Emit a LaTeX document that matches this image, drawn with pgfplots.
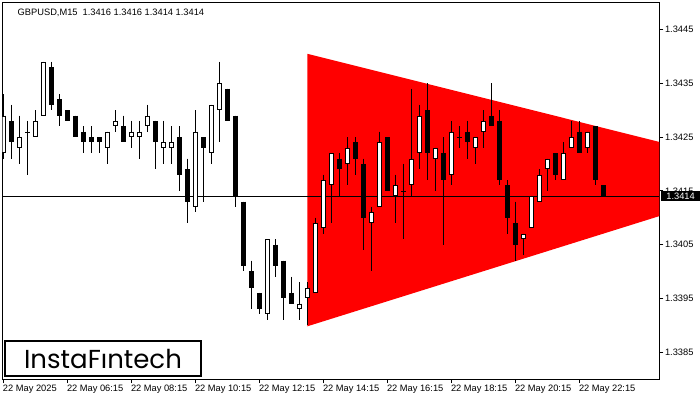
\documentclass[border=0pt]{standalone}
\usepackage{pgfplots}
\pgfplotsset{compat=1.18}
\usepackage{pgfplotstable}
\usetikzlibrary{calc}
\usepackage{fontspec}
\setmainfont{Liberation Sans}
\newfontfamily\logofont{Poppins}

% GBPUSD M15 candles, x = bar index
\pgfplotstableread{
x  o      h      l      c
0  1.3422 1.3433 1.3421 1.3429
2  1.3423 1.3429 1.3420 1.3425
4  1.3425 1.3430 1.3425 1.3428
5  1.3429 1.3439 1.3429 1.3439
13 1.3423 1.3426 1.3420 1.3426
14 1.3427 1.3430 1.3426 1.3428
16 1.3425 1.3428 1.3423 1.3426
17 1.3425 1.3428 1.3421 1.3426
18 1.3427 1.3431 1.3426 1.3429
20 1.3423 1.3428 1.3420 1.3424
21 1.3423 1.3427 1.3420 1.3424
24 1.3412 1.3430 1.3411 1.3426
26 1.3422 1.3431 1.3420 1.3431
27 1.3430 1.3439 1.3424 1.3435
33 1.3392 1.3406 1.3391 1.3406
37 1.3393 1.3398 1.3391 1.3394
38 1.3395 1.3398 1.3390 1.3397
39 1.3396 1.3410 1.3396 1.3409
40 1.3408 1.3418 1.3407 1.3417
41 1.3416 1.3422 1.3409 1.3422
43 1.3420 1.3425 1.3416 1.3423
46 1.3409 1.3412 1.3400 1.3411
47 1.3412 1.3426 1.3412 1.3424
49 1.3414 1.3418 1.3409 1.3416
51 1.3416 1.3434 1.3414 1.3421
52 1.3422 1.3431 1.3419 1.3429
54 1.3421 1.3423 1.3415 1.3423
56 1.3418 1.3428 1.3416 1.3426
59 1.3423 1.3425 1.3420 1.3425
60 1.3426 1.3430 1.3423 1.3428
65 1.3406 1.3407 1.3403 1.3407
66 1.3408 1.3414 1.3408 1.3414
67 1.3413 1.3419 1.3413 1.3418
68 1.3419 1.3421 1.3415 1.3421
70 1.3417 1.3424 1.3417 1.3422
71 1.3423 1.3428 1.3423 1.3425
73 1.3423 1.3426 1.3422 1.3426
}\bull
\pgfplotstableread{
x  o      h      l      c
1  1.3428 1.3431 1.3421 1.3424
3  1.3426 1.3428 1.3418 1.3426
6  1.3438 1.3439 1.3430 1.3431
7  1.3432 1.3433 1.3427 1.3429
8  1.3430 1.3430 1.3428 1.3428
9  1.3429 1.3429 1.3425 1.3425
10 1.3426 1.3427 1.3422 1.3424
11 1.3425 1.3427 1.3422 1.3424
12 1.3425 1.3425 1.3422 1.3424
15 1.3427 1.3429 1.3424 1.3424
19 1.3428 1.3428 1.3419 1.3424
22 1.3425 1.3427 1.3415 1.3418
23 1.3419 1.3421 1.3409 1.3413
25 1.3425 1.3425 1.3413 1.3423
28 1.3434 1.3434 1.3428 1.3428
29 1.3429 1.3429 1.3412 1.3414
30 1.3413 1.3413 1.3400 1.3401
31 1.3400 1.3402 1.3393 1.3397
32 1.3396 1.3396 1.3392 1.3393
34 1.3405 1.3406 1.3399 1.3401
35 1.3402 1.3402 1.3391 1.3395
36 1.3396 1.3399 1.3394 1.3394
42 1.3421 1.3422 1.3414 1.3419
44 1.3424 1.3425 1.3418 1.3421
45 1.3420 1.3421 1.3404 1.3410
48 1.3425 1.3425 1.3415 1.3415
50 1.3415 1.3420 1.3406 1.3415
53 1.3430 1.3435 1.3417 1.3422
55 1.3422 1.3425 1.3405 1.3417
57 1.3425 1.3427 1.3423 1.3425
58 1.3426 1.3428 1.3421 1.3424
61 1.3429 1.3435 1.3427 1.3427
62 1.3428 1.3430 1.3416 1.3417
63 1.3416 1.3417 1.3407 1.3410
64 1.3409 1.3413 1.3402 1.3405
69 1.3422 1.3422 1.3417 1.3418
72 1.3426 1.3428 1.3422 1.3422
74 1.3427 1.3427 1.3416 1.3417
75 1.3416 1.3416 1.3414 1.3414
}\bear

\begin{document}
\begin{tikzpicture}[x=1bp,y=1bp]
\begin{axis}[
  name=ax,
  scale only axis, width=656.8bp, height=376.3bp,
  xmin=-0.1, xmax=82, ymin=1.3380, ymax=1.3450,
  axis line style={line width=1bp},
  tick style={line width=1bp, black},
  major tick length=4bp, tick align=outside,
  xtick pos=left, ytick pos=right, yticklabel pos=right,
  xtick={0,8,...,72},
  xticklabels={22 May 2025, 22 May 06:15, 22 May 08:15, 22 May 10:15, 22 May 12:15,
    22 May 14:15, 22 May 16:15, 22 May 18:15, 22 May 20:15, 22 May 22:15},
  ytick={1.3385,1.3395,1.3405,1.3415,1.3425,1.3435,1.3445},
  scaled y ticks=false,
  tick label style={font=\fontsize{9.3bp}{11bp}\selectfont},
  xticklabel style={anchor=north west, inner sep=0pt, xshift=-0.5bp, yshift=-2bp},
  yticklabel style={anchor=west, inner sep=0pt, xshift=1.5bp,
    /pgf/number format/.cd, fixed, fixed zerofill, precision=4, assume math mode=true},
  candle/.style={only marks, mark=none, mark size=0pt, mark options={draw=none, fill=none},
    error bars/.cd, y dir=minus, y explicit, error mark=none},
]
% red symmetrical triangle
\addplot[fill=red, draw=none] coordinates {(38,1.34405) (82,1.34241) (82,1.34103) (38,1.33898)} -- cycle;
% current price line
\addplot[black, line width=1bp] coordinates {(-0.1,1.3414) (82,1.3414)};
% wicks
\addplot[black, candle, error bar style={line width=1bp}]
  table[x=x, y=h, y error expr=\thisrow{h}-\thisrow{l}] {\bull};
\addplot[black, candle, error bar style={line width=1bp}]
  table[x=x, y=h, y error expr=\thisrow{h}-\thisrow{l}] {\bear};
% bear bodies
\addplot[black, candle, error bar style={line width=5bp}]
  table[x=x, y=o, y error expr={max(\thisrow{o}-\thisrow{c},0.0000186)}] {\bear};
% bull bodies: black outline, white inside
\addplot[black, candle, error bar style={line width=5bp}]
  table[x=x, y=c, y error expr=\thisrow{c}-\thisrow{o}] {\bull};
\addplot[white, candle, error bar style={line width=3bp}]
  table[x=x, y expr=\thisrow{c}-0.0000186, y error expr=\thisrow{c}-\thisrow{o}-0.0000372] {\bull};
\end{axis}
\begin{scope}[shift={($(ax.south west)+(-2.5,-21)$)}]
\node[fill=black, text=white, inner sep=0pt, minimum height=9.5bp, minimum width=39.3bp,
  anchor=west, font=\fontsize{9.3bp}{11bp}\selectfont] at (660.7,204) {1.3414};
\node[anchor=base west, inner sep=0pt, font=\fontsize{9.3bp}{11bp}\selectfont]
  at (17.5,384.5) {GBPUSD,M15\hspace{5bp}1.3416 1.3416 1.3414 1.3414};
\node[draw=black, line width=2bp, fill=white, inner sep=0pt, minimum width=196bp,
  minimum height=35.6bp, anchor=south west] at (4,22.7)
  {\logofont\fontsize{26bp}{26bp}\selectfont InstaFıntech};
\pgfresetboundingbox
\path[use as bounding box] (0,0) rectangle (700,400);
\end{scope}
\end{tikzpicture}
\end{document}
